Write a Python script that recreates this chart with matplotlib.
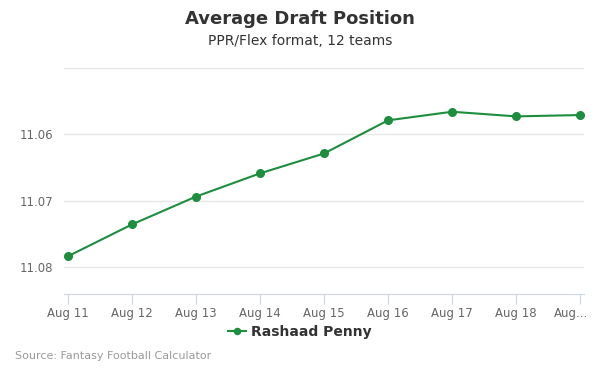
import matplotlib
matplotlib.use('Agg')
import matplotlib.pyplot as plt
from matplotlib.transforms import ScaledTranslation

# Data
dates = ['Aug 11', 'Aug 12', 'Aug 13', 'Aug 14', 'Aug 15', 'Aug 16', 'Aug 17', 'Aug 18', 'Aug...']
adp = [11.0784, 11.0736, 11.0694, 11.0659, 11.0629, 11.0579, 11.0566, 11.0573, 11.0571]
yticks = [11.06, 11.07, 11.08]
player = 'Rashaad Penny'

green = '#1d8e3d'

fig = plt.figure(figsize=(6, 3.75), dpi=100)
ax = fig.add_axes([64 / 600, 1 - 294 / 375, 520 / 600, 226 / 375])

x = list(range(len(dates)))
ax.plot(x, adp, color=green, lw=1.5, marker='o', ms=5.5, label=player, zorder=3)

ax.set_xlim(-0.0625, len(dates) - 1 + 0.0625)
ax.set_ylim(11.0841, 11.05)
ax.set_yticks(yticks + [11.05])
ax.set_yticklabels(['11.06', '11.07', '11.08', ''])
ax.set_xticks(x)
ax.set_xticklabels(dates)

ax.grid(axis='y', color='#e6e6e6', lw=1)
for s in ['top', 'right', 'left']:
    ax.spines[s].set_visible(False)
ax.spines['bottom'].set_color('#ccd6eb')
ax.tick_params(axis='y', length=0, labelsize=8.5, labelcolor='#666666', pad=8)
ax.tick_params(axis='x', length=7, color='#ccd6eb', labelsize=8.5, labelcolor='#666666', pad=2)

# last label is pushed left to stay inside the chart
last = ax.get_xticklabels()[-1]
last.set_ha('right')
last.set_transform(last.get_transform() + ScaledTranslation(8 / 100, 0, fig.dpi_scale_trans))

fig.text(0.5, 1 - 19 / 375, 'Average Draft Position', ha='center', va='center',
         fontsize=13, fontweight='bold', color='#333333')
fig.text(0.5, 1 - 41 / 375, 'PPR/Flex format, 12 teams', ha='center', va='center',
         fontsize=10, color='#333333')
fig.text(15 / 600, 1 - 356 / 375, 'Source: Fantasy Football Calculator', ha='left', va='center',
         fontsize=8, color='#999999')

fig.legend(loc='center', bbox_to_anchor=(0.5, 1 - 332 / 375), frameon=False,
           prop={'weight': 'bold', 'size': 10}, labelcolor='#333333',
           handlelength=1.3, handletextpad=0.4, markerscale=0.8)

fig.savefig('out.png', dpi=100)
